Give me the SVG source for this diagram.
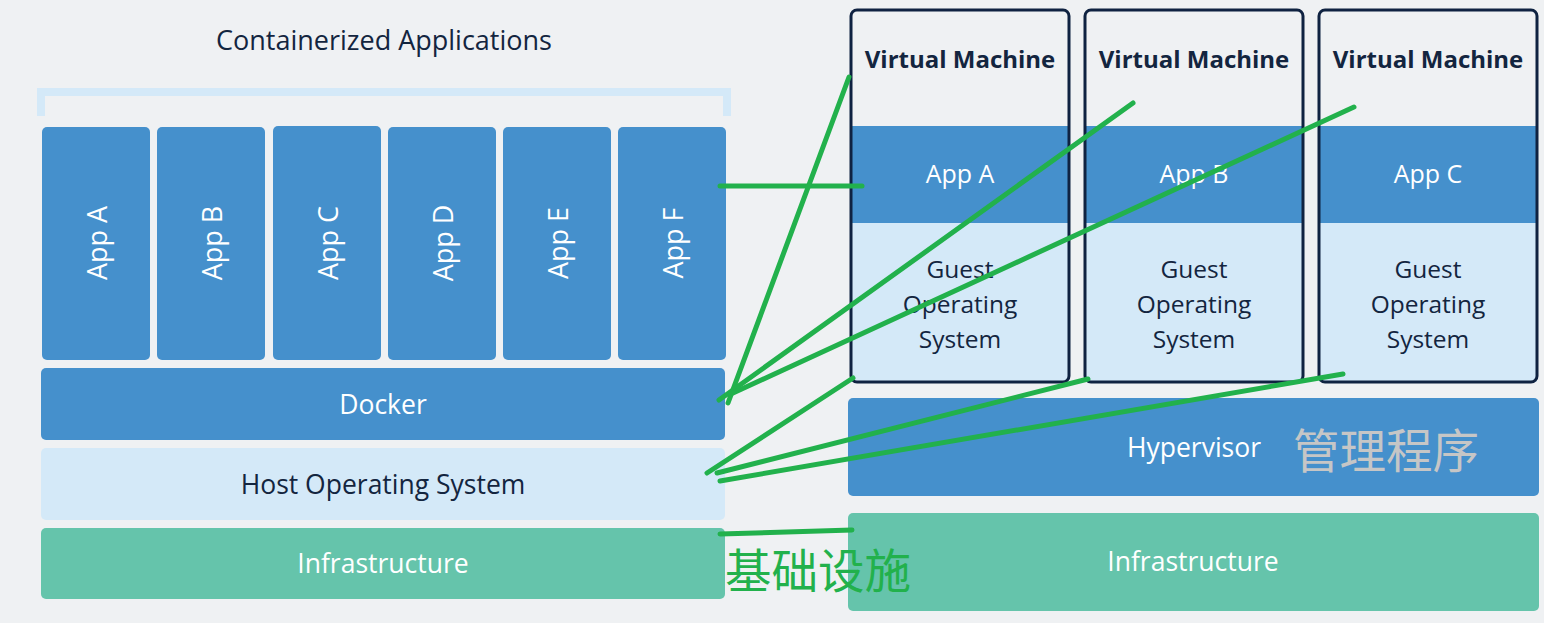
<svg xmlns="http://www.w3.org/2000/svg" width="1544" height="623" viewBox="0 0 1544 623">
<style>
.bg{fill:#eff1f3}
.blue{fill:#4590cc}
.light{fill:#d4e9f8}
.infra{fill:#65c4ab}
.vm{fill:none;stroke:#0f2241;stroke-width:3}
text{font-family:"Open Sans","Liberation Sans",sans-serif;dominant-baseline:central;text-anchor:middle}
.w{fill:#ffffff;font-size:26.5px}
.col{fill:#ffffff;font-size:27px}
.va{fill:#ffffff;font-size:25px}
.d{fill:#13253f;font-size:26.5px}
.go{fill:#13253f;font-size:24.5px}
.title{fill:#13253f;font-size:27px}
.vmt{fill:#13253f;font-size:24px;font-weight:700}
.cjk{font-family:"Noto Sans CJK SC",sans-serif;font-size:46.5px}
.g{fill:none;stroke:#22b14c;stroke-width:5;stroke-linecap:round}
</style>
<rect class="bg" x="0" y="0" width="1544" height="623"/>

<g id="title"><text class="title" x="384" y="39">Containerized Applications</text></g>
<g id="bracket"><path d="M41,116 V92 H727 V116" fill="none" stroke="#d4e9f8" stroke-width="8"/></g>

<g id="appA"><rect class="blue" x="42" y="127" width="108" height="233" rx="5"/><text class="col" transform="translate(96,243) rotate(-90)">App A</text></g>
<g id="appB"><rect class="blue" x="157" y="127" width="108" height="233" rx="5"/><text class="col" transform="translate(211,243) rotate(-90)">App B</text></g>
<g id="appC"><rect class="blue" x="273" y="126" width="108" height="234" rx="5"/><text class="col" transform="translate(327,243) rotate(-90)">App C</text></g>
<g id="appD"><rect class="blue" x="388" y="127" width="108" height="233" rx="5"/><text class="col" transform="translate(442,243) rotate(-90)">App D</text></g>
<g id="appE"><rect class="blue" x="503" y="127" width="108" height="233" rx="5"/><text class="col" transform="translate(557,243) rotate(-90)">App E</text></g>
<g id="appF"><rect class="blue" x="618" y="127" width="108" height="233" rx="5"/><text class="col" transform="translate(672,243) rotate(-90)">App F</text></g>

<g id="docker"><rect class="blue" x="41" y="368" width="684" height="72" rx="5"/><text class="w" x="383" y="404">Docker</text></g>
<g id="hostOS"><rect class="light" x="41" y="448" width="684" height="72" rx="5"/><text class="d" x="383" y="484">Host Operating System</text></g>
<g id="infraLeft"><rect class="infra" x="41" y="528" width="684" height="71" rx="5"/><text class="w" x="383" y="563">Infrastructure</text></g>

<g id="vm1">
<rect class="light" x="851" y="223" width="218" height="159"/>
<rect class="blue" x="851" y="126" width="218" height="97"/>
<rect class="vm" x="851" y="10" width="218" height="372" rx="6"/>
<text class="vmt" x="960" y="58">Virtual Machine</text>
<text class="va" x="960" y="173">App A</text>
<text class="go" x="960" y="268">Guest</text><text class="go" x="960" y="303">Operating</text><text class="go" x="960" y="338">System</text>
</g>
<g id="vm2">
<rect class="light" x="1085" y="223" width="218" height="159"/>
<rect class="blue" x="1085" y="126" width="218" height="97"/>
<rect class="vm" x="1085" y="10" width="218" height="372" rx="6"/>
<text class="vmt" x="1194" y="58">Virtual Machine</text>
<text class="va" x="1194" y="173">App B</text>
<text class="go" x="1194" y="268">Guest</text><text class="go" x="1194" y="303">Operating</text><text class="go" x="1194" y="338">System</text>
</g>
<g id="vm3">
<rect class="light" x="1319" y="223" width="218" height="159"/>
<rect class="blue" x="1319" y="126" width="218" height="97"/>
<rect class="vm" x="1319" y="10" width="218" height="372" rx="6"/>
<text class="vmt" x="1428" y="58">Virtual Machine</text>
<text class="va" x="1428" y="173">App C</text>
<text class="go" x="1428" y="268">Guest</text><text class="go" x="1428" y="303">Operating</text><text class="go" x="1428" y="338">System</text>
</g>

<g id="hypervisor"><rect class="blue" x="848" y="398" width="691" height="98" rx="5"/><text class="w" x="1194" y="447">Hypervisor</text><text class="cjk" x="1386" y="447" fill="#c6c6c6">管理程序</text></g>
<g id="infraRight"><rect class="infra" x="848" y="513" width="691" height="98" rx="5"/><text class="w" x="1193" y="561">Infrastructure</text></g>

<g id="infraLabel"><text class="cjk" x="818" y="567" fill="#22b14c">基础设施</text></g>

<g id="connectors">
<line class="g" x1="720" y1="186" x2="862" y2="186"/>
<line class="g" x1="849" y1="77" x2="728" y2="403"/>
<line class="g" x1="1133" y1="103" x2="719" y2="400"/>
<line class="g" x1="1354" y1="107" x2="733" y2="393"/>
<line class="g" x1="853" y1="378" x2="707" y2="473"/>
<line class="g" x1="1088" y1="379" x2="717" y2="473"/>
<line class="g" x1="1343" y1="374" x2="720" y2="481"/>
<line class="g" x1="720" y1="534" x2="852" y2="530"/>
</g>
</svg>
